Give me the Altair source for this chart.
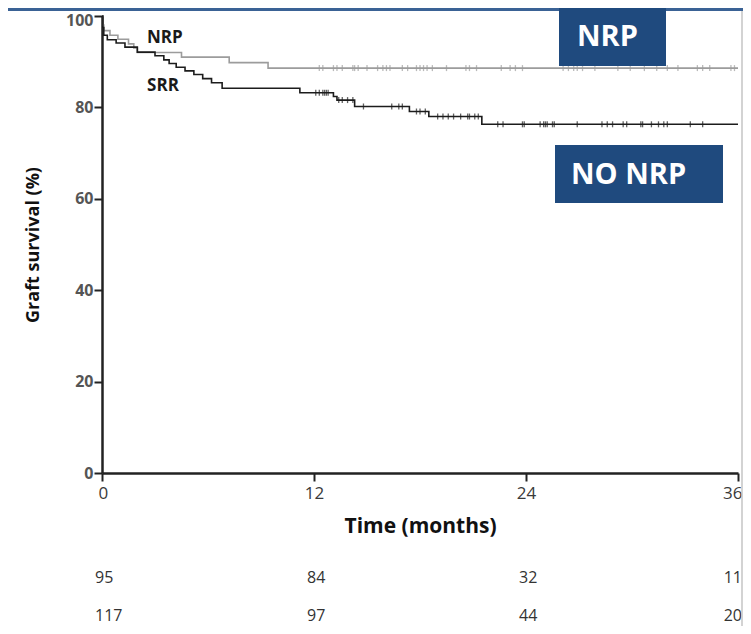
import altair as alt
import pandas as pd

# ---- Kaplan-Meier step points (months, graft survival %) ----
nrp_time = [0, 0.05, 0.1, 0.45, 0.9, 1.5, 1.8, 2.0, 4.5, 7.2, 9.4, 36]
nrp_surv = [100, 98.0, 96.8, 95.8, 94.9, 93.9, 93.0, 92.0, 91.0, 89.8, 88.6, 88.6]

srr_time = [0, 0.05, 0.1, 0.3, 0.8, 1.3, 2.0, 3.0, 3.5, 3.8, 4.2, 4.7, 5.2, 5.7,
            6.2, 6.8, 11.2, 13.1, 13.3, 14.3, 17.4, 18.5, 21.5, 36]
srr_surv = [100, 97.5, 95.8, 94.8, 94.1, 93.2, 92.1, 91.3, 90.4, 89.6, 88.8, 88.0,
            87.2, 86.3, 85.4, 84.2, 83.2, 82.4, 81.6, 80.2, 79.1, 78.0, 76.3, 76.3]

# censored observations (months)
nrp_censor = [12.3, 12.5, 13.1, 13.3, 13.6, 14.2, 14.3, 14.5, 15.0, 15.6, 15.9, 16.1,
              16.3, 17.0, 17.3, 17.8, 18.0, 18.2, 18.4, 18.7, 19.5, 20.6, 20.8, 21.2,
              22.6, 23.1, 23.4, 23.8, 26.1, 26.4, 26.7, 26.9, 27.2, 27.9, 29.2, 29.9,
              30.7, 31.4, 32.0, 32.6, 33.7, 34.0, 34.4, 35.6, 35.8]
srr_censor = [12.1, 12.3, 12.5, 12.6, 12.7, 12.8, 13.4, 13.6, 13.9, 14.2, 14.8, 16.4,
              16.8, 17.0, 17.8, 18.0, 18.3, 19.0, 19.3, 19.6, 19.9, 20.3, 20.7, 20.8,
              21.1, 21.3, 22.4, 22.7, 23.8, 23.9, 24.8, 25.0, 25.1, 25.2, 25.5, 25.6,
              26.9, 28.3, 28.6, 28.9, 29.5, 29.7, 30.5, 30.6, 31.1, 31.5, 31.8, 32.0,
              33.3, 34.0]

# numbers at risk
risk_time = [0, 12, 24, 36]
nrp_risk = [95, 84, 32, 11]
srr_risk = [117, 97, 44, 20]

groups = ["NRP", "SRR"]
label_time = [2.55, 2.55]
label_surv = [95.2, 84.6]

FONT = "Open Sans"


def surv_at(t, times, surv):
    v = surv[0]
    for tt, ss in zip(times, surv):
        if tt <= t:
            v = ss
    return v


lines = pd.DataFrame(
    [{"time": t, "surv": s, "group": "NRP"} for t, s in zip(nrp_time, nrp_surv)]
    + [{"time": t, "surv": s, "group": "SRR"} for t, s in zip(srr_time, srr_surv)]
)
censor = pd.DataFrame(
    [{"time": t, "surv": surv_at(t, nrp_time, nrp_surv), "group": "NRP"} for t in nrp_censor]
    + [{"time": t, "surv": surv_at(t, srr_time, srr_surv), "group": "SRR"} for t in srr_censor]
)
labels = pd.DataFrame({"time": label_time, "surv": label_surv, "group": groups})
risk_nrp = pd.DataFrame({"time": risk_time, "n": nrp_risk})
risk_srr = pd.DataFrame({"time": risk_time, "n": srr_risk})
last_t = max(risk_time)

color = alt.Color("group:N", scale=alt.Scale(domain=groups, range=["#9c9c9c", "#1c1c1c"]), legend=None)

x_enc = alt.X(
    "time:Q",
    scale=alt.Scale(domain=[0, 36], nice=False, zero=False),
    axis=alt.Axis(
        values=[0, 12, 24, 36], title="Time (months)", grid=False,
        domainColor="#222222", domainWidth=2.5, tickColor="#222222", tickWidth=2, tickSize=8,
        labelFont=FONT, labelFontSize=17, labelFontWeight="normal", labelColor="#3a3a3a",
        labelPadding=4, labelFlush=True, labelFlushOffset=4,
        titleFont=FONT, titleFontSize=21, titleFontWeight="bold",
        titleColor="#111111", titlePadding=14,
    ),
)
y_enc = alt.Y(
    "surv:Q",
    scale=alt.Scale(domain=[0, 100], nice=False),
    axis=alt.Axis(
        values=[0, 20, 40, 60, 80, 100], title="Graft survival (%)", grid=False,
        domainColor="#222222", domainWidth=2.5, tickColor="#222222", tickWidth=2, tickSize=8,
        labelFont=FONT, labelFontSize=16, labelFontWeight="bold", labelColor="#555555",
        labelPadding=1,
        labelOffset={"condition": {"test": "datum.value == 100", "value": 4}, "value": 0},
        titleFont=FONT, titleFontSize=18, titleFontWeight="bold",
        titleColor="#111111", titlePadding=23,
    ),
)

line_layer = alt.Chart(lines).mark_line(interpolate="step-after", strokeWidth=1.6).encode(
    x=x_enc, y=y_enc, color=color, detail="group:N"
)
tick_layer = alt.Chart(censor).mark_tick(orient="vertical", size=6, thickness=1.3).encode(
    x=alt.X("time:Q"), y=alt.Y("surv:Q"), color=color
)
label_layer = alt.Chart(labels).mark_text(
    font=FONT, fontSize=17, fontWeight="bold", align="left", baseline="middle", color="#1a1a1a"
).encode(x=alt.X("time:Q"), y=alt.Y("surv:Q"), text="group:N")


def risk_layers(df, ypix):
    base = alt.Chart(df)
    inner = base.transform_filter(alt.datum.time < last_t).mark_text(
        font=FONT, fontSize=16, align="left", baseline="middle", color="#333333", dx=-7
    ).encode(x=alt.X("time:Q"), y=alt.value(ypix), text="n:Q")
    outer = base.transform_filter(alt.datum.time >= last_t).mark_text(
        font=FONT, fontSize=16, align="right", baseline="middle", color="#333333", dx=4
    ).encode(x=alt.X("time:Q"), y=alt.value(ypix), text="n:Q")
    return [inner, outer]


one = alt.Data(values=[{"k": 1}])
top_strip = alt.Chart(one).mark_rect(color="#3a6295").encode(
    x=alt.value(-94), x2=alt.value(648), y=alt.value(-8), y2=alt.value(-5)
)
right_border = alt.Chart(one).mark_rule(color="#c4c4c4", strokeWidth=1.5).encode(
    x=alt.value(640), y=alt.value(-5), y2=alt.value(615)
)
box1 = alt.Chart(one).mark_rect(color="#1f4a7e").encode(
    x=alt.value(457), x2=alt.value(564), y=alt.value(-8), y2=alt.value(50)
)
box2 = alt.Chart(one).mark_rect(color="#1f4a7e").encode(
    x=alt.value(453), x2=alt.value(621), y=alt.value(129), y2=alt.value(187)
)
box1_text = alt.Chart(one).mark_text(
    font=FONT, fontSize=29, fontWeight="bold", color="white", align="left", baseline="middle"
).encode(x=alt.value(475), y=alt.value(21), text=alt.value("NRP"))
box2_text = alt.Chart(one).mark_text(
    font=FONT, fontSize=29, fontWeight="bold", color="white", align="left", baseline="middle"
).encode(x=alt.value(469), y=alt.value(159), text=alt.value("NO NRP"))

chart = alt.layer(
    line_layer, tick_layer, label_layer,
    *risk_layers(risk_nrp, 562), *risk_layers(risk_srr, 600),
    top_strip, right_border, box1, box2, box1_text, box2_text,
).properties(
    width=636, height=457,
    padding={"left": 94, "top": 8, "right": 5, "bottom": 153},
    autosize=alt.AutoSizeParams(type="none"),
    background="white",
).configure_view(stroke=None)

chart.save("out.html", embed_options={"renderer": "svg", "actions": False})
